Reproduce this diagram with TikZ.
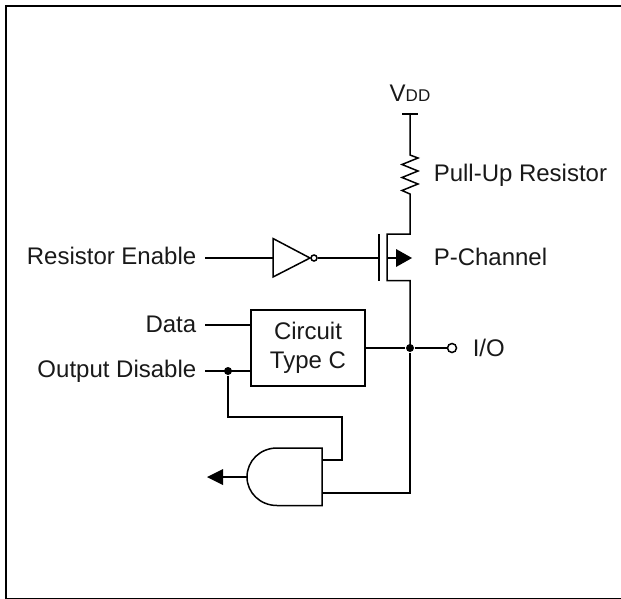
\documentclass[tikz,border=0pt]{standalone}
\usepackage{fontspec}
\setmainfont{Liberation Sans}
\usetikzlibrary{positioning}

\begin{document}
\begin{tikzpicture}[
    x=1pt,y=-1pt,
    line width=1.5pt,
    label/.style={rectangle,inner xsep=8pt,inner ysep=0pt,font=\fontsize{24}{28}\selectfont,text=black!90},
    circuit/.style={rectangle,draw,minimum width=114pt,minimum height=76pt,inner sep=0pt,align=center,font=\fontsize{24}{29}\selectfont,text=black!90},
    junction/.style={circle,fill=black,inner sep=0pt,minimum size=8pt},
    bubble/.style={circle,draw,fill=white,inner sep=0pt,minimum size=6pt}]
        \useasboundingbox (0,0) rectangle (621,599);

        \draw[line width=2pt] (625,6.5) -- (6,6.5) -- (6,598.5) -- (625,598.5);

        \node[label,anchor=base] (vdd) at (410,102) {V{\fontsize{17}{20}\selectfont DD}};
        \node[label,anchor=base west] (pullup) at (425,182) {Pull-Up Resistor};
        \node[label,anchor=base west] (pchannel) at (425,265) {P-Channel};
        \node[label,anchor=base east] (enable) at (205,264) {Resistor Enable};
        \node[label,anchor=base east] (data) at (205,332) {Data};
        \node[label,anchor=base east] (disable) at (205,377) {Output Disable};
        \node[label,anchor=base west] (io) at (464,356) {I/O};

        \node[circuit] (type_c) at (308,348) {Circuit\\Type C};

        % supply and pull-up
        \coordinate (rail) at (410,114);
        \coordinate (res_top) at (410,155);
        \coordinate (res_bot) at (410,194);
        \draw (402,114) -- (418,114);
        \draw (rail) -- (res_top)
            -- (418,158) -- (402,164.5) -- (418,171) -- (402,177.5) -- (418,184) -- (402,190.5)
            -- (res_bot) -- (410,234) -- (387,234) -- (387,280.5) -- (410,280.5) -- (410,348);

        % gate of the transistor
        \draw (379,234) -- (379,281);
        \coordinate (arrow_tail) at (387,258);
        \coordinate (arrow_base) at (396,258);
        \draw (arrow_tail) -- (arrow_base);
        \fill (396,249) -- (412,258) -- (396,267) -- cycle;

        % inverter
        \draw[line join=miter] (273,238.5) -- (310,258) -- (273,277) -- cycle;
        \node[bubble] (inv_out) at (314,258) {};
        \coordinate (gate_in) at (379,258);
        \coordinate (enable_out) at (205,258);
        \draw (enable_out) -- (273,258);
        \draw (inv_out) -- (gate_in);

        % circuit type c
        \coordinate (data_out) at (205,325);
        \coordinate (disable_out) at (205,371);
        \draw (data_out) -- (data_out -| type_c.west);
        \draw (disable_out) -- (disable_out -| type_c.west);
        \node[junction] (j_disable) at (228,371) {};
        \node[junction] (j_io) at (410,348) {};
        \node[bubble,minimum size=9pt] (io_pin) at (452,348) {};
        \draw (type_c.east |- j_io) -- (j_io) -- (io_pin);

        % and gate
        \coordinate (and_in_a) at (322,460);
        \coordinate (and_in_b) at (322,493);
        \coordinate (and_out) at (247,477);
        \draw (322,448) -- (322,505.5) -- (277,505.5)
            .. controls (260,505.5) and (247,492.5) .. (and_out)
            .. controls (247,461) and (260,448) .. (277,448) -- cycle;
        \draw (j_disable) -- (228,417) -- (342,417) -- (342,460) -- (and_in_a);
        \draw (j_io) -- (410,493) -- (and_in_b);
        \coordinate (arrow_end) at (223,477);
        \draw (and_out) -- (arrow_end);
        \fill (223,469) -- (207,477) -- (223,485) -- cycle;

    \end{tikzpicture}
\end{document}
